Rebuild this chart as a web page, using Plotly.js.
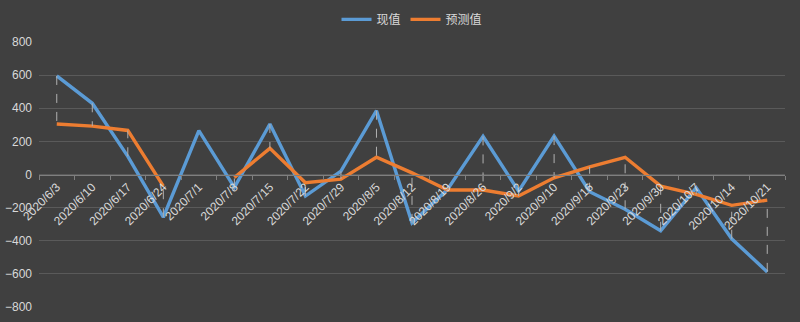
<!DOCTYPE html>
<html><head><meta charset="utf-8">
<script src="https://cdn.plot.ly/plotly-3.0.1.min.js"></script>
<style>html,body{margin:0;padding:0;background:#404040;}#chart{width:800px;height:322px;}</style>
</head><body><div id="chart"></div>
<script>
const categories = ["2020/6/3","2020/6/10","2020/6/17","2020/6/24","2020/7/1","2020/7/8","2020/7/15","2020/7/22","2020/7/29","2020/8/5","2020/8/12","2020/8/19","2020/8/26","2020/9/2","2020/9/10","2020/9/16","2020/9/23","2020/9/30","2020/10/7","2020/10/14","2020/10/21"];
const actual = [595, 430, 110, -258, 265, -78, 305, -130, 20, 385, -292, -90, 230, -100, 232, -104, -210, -340, -80, -388, -588];
const predicted = [305, 292, 266, -70, null, -18, 158, -50, -28, 104, 10, -94, -94, -130, -20, 46, 104, -70, -120, -186, -155];
const seriesNames = ["现值", "预测值"];

// high-low lines built from the two series
const hlX = [], hlY = [];
categories.forEach((c, i) => {
  if (actual[i] !== null && predicted[i] !== null) {
    hlX.push(c, c, null);
    hlY.push(actual[i], predicted[i], null);
  }
});

const traces = [
  {x: categories, y: actual, name: seriesNames[0], mode: 'lines', line: {color: '#5b9bd5', width: 3.4}, connectgaps: false},
  {x: categories, y: predicted, name: seriesNames[1], mode: 'lines', line: {color: '#ed7d31', width: 3.4}, connectgaps: false},
  {x: hlX, y: hlY, mode: 'lines', line: {color: '#b0b0b0', width: 1, dash: 'dash'}, showlegend: false, hoverinfo: 'skip'}
];

const layout = {
  width: 800, height: 322,
  paper_bgcolor: '#404040', plot_bgcolor: '#404040',
  margin: {l: 39, r: 15, t: 42, b: 15},
  font: {family: 'Liberation Sans, "Noto Sans CJK SC", sans-serif', color: '#d9d9d9', size: 12},
  showlegend: true,
  legend: {orientation: 'h', x: 0.5, xanchor: 'center', yref: 'container', y: 0.985, yanchor: 'top',
           font: {family: '"Noto Sans CJK SC", sans-serif', size: 12, color: '#d9d9d9'}, bgcolor: 'rgba(0,0,0,0)', traceorder: 'normal', itemwidth: 30},
  hovermode: false,
  xaxis: {type: 'category', categoryorder: 'array', categoryarray: categories,
          anchor: 'free', position: 0.5, showgrid: false, zeroline: false,
          showline: true, linecolor: '#7f7f7f', linewidth: 1, ticks: 'outside', tickson: 'boundaries',
          ticklen: 4, tickcolor: '#7f7f7f', tickangle: -45, tickfont: {size: 12, color: '#d9d9d9'},
          range: [-0.5, categories.length - 0.5]},
  yaxis: {range: [-800, 800], dtick: 200, tick0: 0, showgrid: true, gridcolor: '#5a5a5a', gridwidth: 1,
          zeroline: false, showline: false, ticks: '', tickfont: {size: 12, color: '#d9d9d9'}, ticklabelstandoff: 6}
};

Plotly.newPlot('chart', traces, layout, {displayModeBar: false, staticPlot: true});
</script></body></html>
